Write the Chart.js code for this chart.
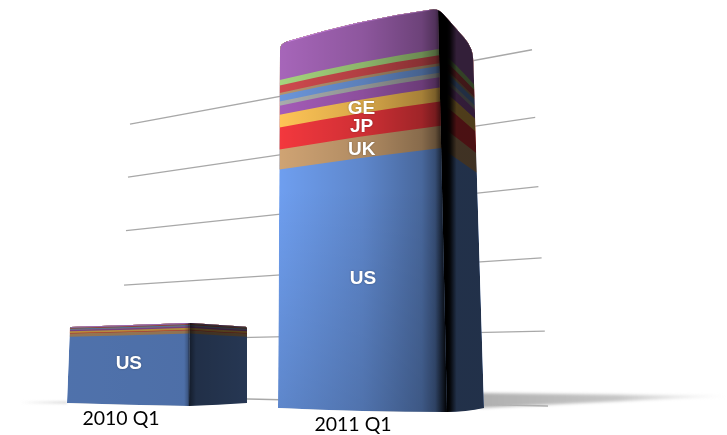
<!DOCTYPE html>
<html>
<head>
<meta charset="utf-8">
<title>Quarterly totals by country</title>
<script src="https://cdn.jsdelivr.net/npm/chart.js@4"></script>
<style>
  html, body { margin: 0; background: #fff; }
  canvas { display: block; }
</style>
</head>
<body>
<canvas id="stackChart" width="727" height="435"></canvas>
<script>
const quarters = ["2010 Q1", "2011 Q1"];
const bandNames = ["US", "UK", "JP", "GE", "", "", "", "", "", "", ""];
const bandColors = ["#6f9ff0", "#d0a474", "#f4383e", "#ffc556", "#a55cb8", "#a9adad", "#6c96da", "#b59570", "#d04a4e", "#a6d57e", "#a766ba"];
const values2010 = [1.10, 0.05, 0.01, 0.03, 0.02, 0.01, 0.01, 0.005, 0.01, 0.005, 0.01];
const values2011 = [3.92, 0.33, 0.36, 0.21, 0.15, 0.07, 0.10, 0.04, 0.12, 0.09, 0.61];
const axisMax = 6;
const gridMax = 5;

// how each box leans, relative to its category position on the x scale
const views = [
  {
    left: { dx: -90, lean: 14, drop: -9, rise: 362 },
    corner: { dx: 32, lean: 4, drop: -6, rise: 395 },
    right: { dx: 90, lean: 0, drop: -9, rise: 362 },
    radius: 1, bow: 0.3,
    front: [[0, "#b6b6b6"], [0.96, "#b2b2b2"], [0.99, "#8a8a8a"], [1, "#5a5a5a"]],
    side: [[0, "#2c2c2c"], [0.12, "#4c4c4c"], [1, "#585858"]],
    fade: "#ffffff",
    labelDx: -36, labelY: 425
  },
  {
    left: { dx: -103, lean: 2, drop: -4, rise: 365 },
    corner: { dx: 66, lean: -9, drop: 0, rise: 404 },
    right: { dx: 103, lean: -11, drop: -4, rise: 360 },
    radius: 8, bow: 1,
    front: [[0, "#ffffff"], [0.5, "#d8d8d8"], [0.85, "#a6a6a6"], [0.93, "#7c7c7c"], [0.985, "#1c1c1c"], [1, "#000000"]],
    side: [[0, "#000000"], [0.08, "#0a0a0a"], [0.26, "#4e4e4e"], [1, "#4e4e4e"]],
    fade: "#d8d8d8",
    labelDx: -28, labelY: 431
  }
];

function lerp(a, b, t) { return a + (b - a) * t; }

function towards(a, b, d) {
  const len = Math.hypot(b.x - a.x, b.y - a.y);
  return { x: a.x + (b.x - a.x) * d / len, y: a.y + (b.y - a.y) * d / len };
}

const perspective = {
  id: "perspective",
  beforeDatasetsDraw(chart) {
    const ctx = chart.ctx;
    const area = chart.chartArea;
    const frac = px => (area.bottom - px) / (area.bottom - area.top);

    // back wall lines, one per y tick, spaced a little tighter towards the top
    ctx.save();
    ctx.strokeStyle = "#a8a8a8";
    ctx.lineWidth = 1.3;
    chart.scales.y.ticks.forEach(tick => {
      if (tick.value > gridMax) return;
      const v = frac(chart.scales.y.getPixelForValue(tick.value)) * axisMax;
      ctx.beginPath();
      ctx.moveTo(120 + 2 * v, 396 - 56.2 * v + 0.367 * v * v);
      ctx.lineTo(548 - 3.2 * v, 406 - 75.9 * v + 0.93 * v * v);
      ctx.stroke();
    });
    ctx.restore();

    quarters.forEach((name, j) => {
      const view = views[j];
      const x0 = chart.scales.x.getPixelForValue(j);
      const elements = bandNames.map((_, i) => chart.getDatasetMeta(i).data[j]);
      const tTop = frac(elements[elements.length - 1].y);
      const pt = (col, t) => ({ x: x0 + col.dx + col.lean * t, y: area.bottom + col.drop - col.rise * t });
      const bow = (t, max) => (-2 + (max - 3) * t + 3 * Math.pow(t, 8) + 2 * t) * view.bow;

      const curve = (a, b, off) => ctx.quadraticCurveTo((a.x + b.x) / 2, (a.y + b.y) / 2 - off, b.x, b.y);

      // ground shadow
      ctx.save();
      const rb = pt(view.right, 0);
      if (j === 1) {
        const g = ctx.createLinearGradient(rb.x, 0, 727, 0);
        g.addColorStop(0, "#b0b0b0");
        g.addColorStop(0.55, "#c6c6c6");
        g.addColorStop(1, "rgba(235,235,235,0.4)");
        ctx.filter = "blur(1.5px)";
        ctx.fillStyle = g;
        ctx.beginPath();
        ctx.moveTo(rb.x - 4, rb.y - 15);
        ctx.lineTo(727, rb.y - 12);
        ctx.lineTo(rb.x - 4, rb.y);
        ctx.closePath();
        ctx.fill();
      } else {
        const lb = pt(view.left, 0);
        const g = ctx.createLinearGradient(20, 0, lb.x, 0);
        g.addColorStop(0, "rgba(225,225,225,0)");
        g.addColorStop(1, "rgba(225,225,225,1)");
        ctx.filter = "blur(1px)";
        ctx.fillStyle = g;
        ctx.fillRect(20, lb.y - 2, lb.x - 20, 3);
      }
      ctx.restore();

      const frontPath = (t0, t1) => {
        const a = pt(view.left, t0), b = pt(view.corner, t0), c = pt(view.corner, t1), d = pt(view.left, t1);
        ctx.beginPath();
        ctx.moveTo(a.x, a.y);
        curve(a, b, bow(t0, 6));
        ctx.lineTo(c.x, c.y);
        curve(c, d, bow(t1, 6));
        ctx.closePath();
      };
      const sidePath = (t0, t1) => {
        const a = pt(view.corner, t0), b = pt(view.right, t0), c = pt(view.right, t1), d = pt(view.corner, t1);
        ctx.beginPath();
        ctx.moveTo(a.x, a.y);
        curve(a, b, bow(t0, 4));
        ctx.lineTo(c.x, c.y);
        curve(c, d, bow(t1, 4));
        ctx.closePath();
      };

      // outline of the box with its rounded top edge
      const r = view.radius;
      const lb = pt(view.left, 0), lt = pt(view.left, tTop);
      const cb = pt(view.corner, 0), ct = pt(view.corner, tTop);
      const rt = pt(view.right, tTop);
      const ltUp = towards(lt, lb, r), ltOver = towards(lt, ct, r);
      const ctBack = towards(ct, lt, r), ctOver = towards(ct, rt, r);
      const rtBack = towards(rt, ct, r * 1.6), rtDown = towards(rt, rb, r * 1.6);
      ctx.save();
      ctx.beginPath();
      ctx.moveTo(lb.x, lb.y);
      ctx.lineTo(ltUp.x, ltUp.y);
      ctx.quadraticCurveTo(lt.x, lt.y, ltOver.x, ltOver.y);
      curve(ltOver, ctBack, bow(tTop, 6));
      ctx.quadraticCurveTo(ct.x, ct.y, ctOver.x, ctOver.y);
      ctx.lineTo(rtBack.x, rtBack.y);
      ctx.quadraticCurveTo(rt.x, rt.y, rtDown.x, rtDown.y);
      ctx.lineTo(rb.x, rb.y);
      curve(rb, cb, bow(0, 4));
      curve(cb, lb, bow(0, 6));
      ctx.closePath();
      ctx.clip();

      // colour bands, each painted up to the top so the next one overlaps it
      elements.forEach((el, i) => {
        const t0 = frac(el.base);
        ctx.fillStyle = bandColors[i];
        frontPath(t0, tTop + 0.03);
        ctx.fill();
        sidePath(t0, tTop + 0.03);
        ctx.fill();
      });

      // bright rim on the top edge
      ctx.strokeStyle = "#d58bee";
      ctx.lineWidth = 1.6;
      ctx.beginPath();
      ctx.moveTo(ltOver.x, ltOver.y);
      curve(ltOver, ctBack, bow(tTop, 6));
      ctx.stroke();

      // lighting on both faces
      ctx.globalCompositeOperation = "multiply";
      const fg = ctx.createLinearGradient(lb.x, 0, cb.x, 0);
      view.front.forEach(s => fg.addColorStop(s[0], s[1]));
      ctx.fillStyle = fg;
      frontPath(-0.02, tTop + 0.03);
      ctx.fill();
      const vg = ctx.createLinearGradient(0, ct.y, 0, cb.y);
      vg.addColorStop(0, "#ffffff");
      vg.addColorStop(0.45, "#ffffff");
      vg.addColorStop(1, view.fade);
      ctx.fillStyle = vg;
      frontPath(-0.02, tTop + 0.03);
      ctx.fill();
      const sg = ctx.createLinearGradient(cb.x, 0, rb.x, 0);
      view.side.forEach(s => sg.addColorStop(s[0], s[1]));
      ctx.fillStyle = sg;
      sidePath(-0.02, tTop + 0.03);
      ctx.fill();
      ctx.restore();

      // band names, centred on the front face
      ctx.save();
      ctx.font = "bold 19px 'Liberation Sans', Arial, sans-serif";
      ctx.textAlign = "center";
      ctx.textBaseline = "middle";
      ctx.fillStyle = "#fff";
      ctx.shadowColor = "rgba(0,0,0,0.35)";
      ctx.shadowBlur = 2;
      elements.forEach((el, i) => {
        if (!bandNames[i]) return;
        const t0 = frac(el.base), t1 = frac(el.y);
        if (t1 - t0 < 0.03) return;
        const mid = t => (pt(view.left, t).y + pt(view.corner, t).y) / 2 - bow(t, 6) / 2;
        const height = mid(t0) - mid(t1);
        const lift = height > 60 ? 6 : -2;
        const x = lerp(pt(view.left, (t0 + t1) / 2).x, pt(view.corner, (t0 + t1) / 2).x, 0.5 + 0.01 * j);
        ctx.fillText(bandNames[i], x, (mid(t0) + mid(t1)) / 2 - lift);
      });
      ctx.restore();

      // quarter label under the box
      ctx.save();
      ctx.font = "19.5px Lato, sans-serif";
      ctx.textAlign = "center";
      ctx.fillStyle = "#000";
      ctx.fillText(chart.scales.x.getLabelForValue(j), x0 + view.labelDx, view.labelY);
      ctx.restore();
    });

    // the boxes above replace the default flat bars
    return false;
  }
};

new Chart(document.getElementById("stackChart").getContext("2d"), {
  type: "bar",
  data: {
    labels: quarters,
    datasets: bandNames.map((name, i) => ({
      label: name,
      data: [values2010[i], values2011[i]],
      backgroundColor: bandColors[i]
    }))
  },
  options: {
    responsive: false,
    animation: false,
    layout: { padding: { left: 45, right: 234, top: 8, bottom: 23 } },
    plugins: { legend: { display: false }, tooltip: { enabled: false } },
    scales: {
      x: { stacked: true, display: false },
      y: { stacked: true, display: false, min: 0, max: axisMax, ticks: { stepSize: 1 } }
    }
  },
  plugins: [perspective]
});
</script>
</body>
</html>
